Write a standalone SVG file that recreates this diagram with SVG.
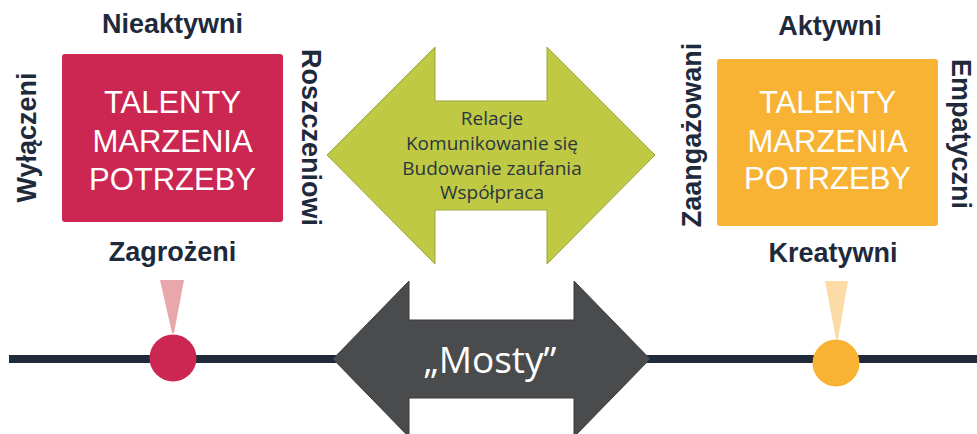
<svg xmlns="http://www.w3.org/2000/svg" width="977" height="434" viewBox="0 0 977 434">
<style>
.lbl{font-family:"Liberation Sans",Arial,sans-serif;font-weight:bold;font-size:27px;fill:#1E2A3B;text-anchor:middle}
.box{font-family:"Liberation Sans",Arial,sans-serif;font-size:31px;fill:#FFFFFF;text-anchor:middle}
.mid{font-family:"Open Sans","Noto Sans",sans-serif;font-size:19px;fill:#2C3540;text-anchor:middle}
.most{font-family:"Open Sans","Noto Sans",sans-serif;font-size:37px;fill:#FFFFFF;text-anchor:middle}
</style>
<rect width="977" height="434" fill="#FFFFFF"/>
<g id="connectors">
  <rect x="9" y="355" width="968" height="8" fill="#1F2A3A"/>
  <polygon points="160,280 184,280 174,333 172,333" fill="#E8A7AA"/>
  <polygon points="825,281 848,281 838,339 836,339" fill="#FDDBA7"/>
</g>
<g id="bridge-mosty">
  <polygon points="333,359 409,281 409,320 574,320 574,281 650,359 574,437 574,398 409,398 409,437" fill="#4A4B4D" stroke="#3A3B3D" stroke-width="1"/>
  <text class="most" x="490" y="373">„Mosty”</text>
</g>
<g id="dot-left">
  <circle cx="173" cy="358" r="23.5" fill="#CB2752"/>
</g>
<g id="dot-right">
  <circle cx="836" cy="363" r="23.5" fill="#F8B334"/>
</g>
<g id="bridge-relacje">
  <polygon points="327,155 435,47 435,101 547,101 547,47 655,155 547,264 547,210 435,210 435,264" fill="#BFC944" stroke="#9DA63A" stroke-width="1"/>
  <text class="mid" x="492" y="125">Relacje</text>
  <text class="mid" x="492" y="150">Komunikowanie się</text>
  <text class="mid" x="492" y="175">Budowanie zaufania</text>
  <text class="mid" x="492" y="199">Współpraca</text>
</g>
<g id="box-left">
  <rect x="62" y="54" width="221" height="168" rx="3" fill="#CB2752"/>
  <text class="box" x="172.5" y="113">TALENTY</text>
  <text class="box" x="172.5" y="152">MARZENIA</text>
  <text class="box" x="172.5" y="190">POTRZEBY</text>
  <text class="lbl" x="172.5" y="33">Nieaktywni</text>
  <text class="lbl" x="172.5" y="261">Zagrożeni</text>
  <text class="lbl" transform="translate(36,137.5) rotate(-90)">Wyłączeni</text>
  <text class="lbl" transform="translate(302,137.5) rotate(90)">Roszczeniowi</text>
</g>
<g id="box-right">
  <rect x="717" y="59" width="221" height="167" rx="3" fill="#F8B334"/>
  <text class="box" x="827.5" y="113">TALENTY</text>
  <text class="box" x="827.5" y="152">MARZENIA</text>
  <text class="box" x="827.5" y="189">POTRZEBY</text>
  <text class="lbl" x="830" y="35">Aktywni</text>
  <text class="lbl" x="833" y="262">Kreatywni</text>
  <text class="lbl" transform="translate(701,135) rotate(-90)">Zaangażowani</text>
  <text class="lbl" transform="translate(952,134) rotate(90)">Empatyczni</text>
</g>
</svg>
